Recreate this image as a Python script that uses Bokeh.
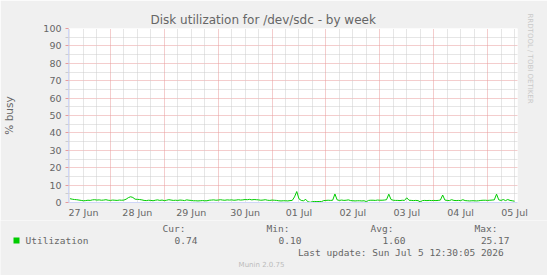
import datetime as dt

from bokeh.plotting import figure
from bokeh.layouts import column
from bokeh.models import (Range1d, FixedTicker, DatetimeTickFormatter, Grid, Label, Title)
from bokeh.embed import file_html
from bokeh.resources import INLINE

# ---------------- data ----------------
title = "Disk utilization for /dev/sdc - by week"
y_label = "% busy"
series_name = "Utilization"
series_color = "#00CC00"
start_time = dt.datetime(2026, 6, 27, 6, 0)   # first hourly sample
utilization = [
    2.2, 1.9, 1.7, 1.6, 1.4, 1.2, 1.0, 1.1, 1.3, 1.2, 1.5, 1.6, 1.4, 1.5, 1.3, 1.4, 1.6, 1.3, 1.2, 1.4, 1.3, 1.2, 1.4, 1.3,
    1.4, 1.9, 2.8, 3.3, 2.9, 1.9, 1.8, 1.7, 1.5, 1.2, 1.1, 1.3, 1.2, 1.0, 1.3, 1.5, 1.2, 1.4, 1.1, 1.3, 1.6, 1.4, 1.2, 1.3,
    1.2, 1.4, 1.3, 1.1, 1.5, 1.3, 1.2, 1.0, 1.0, 0.9, 1.0, 1.1, 1.0, 1.0, 1.3, 1.4, 1.5, 1.3, 1.4, 1.6, 1.4, 1.3, 1.5, 1.4,
    1.5, 1.3, 1.4, 1.6, 1.4, 1.5, 1.7, 1.6, 1.8, 1.5, 1.7, 1.6, 1.5, 1.3, 1.4, 1.6, 1.3, 1.2, 1.4, 1.3, 1.2, 1.0, 0.9, 1.0,
    1.0, 0.9, 1.1, 1.2, 3.2, 6.3, 2.1, 1.2, 1.0, 1.8, 0.4, 0.1, 0.5, 0.6, 0.5, 0.6, 0.5, 1.1, 1.2, 1.3, 1.2, 1.3, 4.9, 1.5,
    1.2, 1.4, 1.2, 1.3, 1.5, 1.1, 1.0, 0.9, 1.0, 1.0, 0.9, 1.0, 0.5, 1.2, 1.3, 1.3, 1.2, 1.4, 1.3, 1.3, 1.4, 1.6, 4.8, 1.7,
    1.3, 1.2, 1.2, 1.1, 1.3, 1.2, 2.7, 1.3, 1.2, 1.1, 1.2, 1.1, 0.4, 1.1, 1.2, 1.1, 1.2, 1.1, 1.2, 1.1, 1.2, 1.4, 4.3, 1.4,
    1.2, 1.1, 1.6, 1.2, 1.1, 1.2, 1.1, 1.6, 1.1, 1.0, 0.9, 1.0, 1.0, 0.9, 1.0, 1.2, 1.3, 1.3, 1.2, 1.3, 1.4, 1.5, 4.8, 1.5,
    1.2, 1.7, 1.1, 1.7, 1.2, 1.0, 0.74,
]
stat_names = ["Cur:", "Min:", "Avg:", "Max:"]
stat_values = ["0.74", "0.10", "1.60", "25.17"]
last_update = "Last update: Sun Jul  5 12:30:05 2026"
footer = "Munin 2.0.75"
watermark = "RRDTOOL / TOBI OETIKER"
x_start = dt.datetime(2026, 6, 27, 5, 20)
x_end = dt.datetime(2026, 7, 5, 13, 20)
first_label_day = dt.datetime(2026, 6, 27)
n_days = 9
y_major = list(range(0, 101, 10))
y_minor = list(range(5, 100, 10))

# ---------------- derived ----------------
EPOCH = dt.datetime(1970, 1, 1)
def ms(d):
    return (d - EPOCH).total_seconds() * 1000.0

times = [start_time + dt.timedelta(hours=i) for i in range(len(utilization))]
noon_ticks = [ms(first_label_day + dt.timedelta(days=k, hours=12)) for k in range(n_days)]
midnights = [ms(first_label_day + dt.timedelta(days=k)) for k in range(1, n_days)]
six_hourly = []
t = first_label_day + dt.timedelta(hours=6)
while t <= x_end:
    if t.hour != 0:
        six_hourly.append(ms(t))
    t += dt.timedelta(hours=6)

FONT = "DejaVu Sans"
MONO = "DejaVu Sans Mono"
TXT = "#666666"
AXIS = "#CFD6F8"
MGRID = "#E89A9A"
GRID = "#CCCCCC"
BG = "#F0F0F0"

# ---------------- main graph ----------------
p = figure(width=547, height=220, x_axis_type="datetime",
           x_range=Range1d(x_start, x_end), y_range=Range1d(0, 100),
           output_backend="svg", toolbar_location=None,
           min_border_left=67, min_border_right=30, min_border_top=28, min_border_bottom=17)
p.frame_align = False
p.background_fill_color = "#FFFFFF"
p.border_fill_color = BG
p.outline_line_color = None

p.add_layout(Title(text=title, align="left", offset=82, standoff=3,
                   text_font=FONT, text_font_size="12px", text_font_style="normal",
                   text_color=TXT), "above")

xa = p.xaxis[0]
xa.ticker = FixedTicker(ticks=noon_ticks)
fmt = "%d %b"
xa.formatter = DatetimeTickFormatter(microseconds=fmt, milliseconds=fmt, seconds=fmt, minsec=fmt,
                                     minutes=fmt, hourmin=fmt, hours=fmt, days=fmt, months=fmt, years=fmt)
xa.major_tick_out = 0
xa.major_tick_in = 0
xa.minor_tick_out = 0
xa.minor_tick_in = 0
xa.major_label_standoff = 4
xa.axis_line_color = AXIS
xa.major_label_text_font = FONT
xa.major_label_text_font_size = "9.5px"
xa.major_label_text_color = TXT

ya = p.yaxis[0]
ya.ticker = FixedTicker(ticks=y_major, minor_ticks=y_minor)
ya.major_tick_out = 3
ya.major_tick_in = 0
ya.minor_tick_out = 3
ya.minor_tick_in = 0
ya.major_tick_line_color = MGRID
ya.minor_tick_line_color = GRID
ya.major_label_standoff = 4
ya.axis_line_color = AXIS
ya.major_label_text_font = FONT
ya.major_label_text_font_size = "9.5px"
ya.major_label_text_color = TXT
ya.axis_label = y_label
ya.axis_label_standoff = 25
ya.axis_label_text_font = FONT
ya.axis_label_text_font_size = "10.5px"
ya.axis_label_text_font_style = "normal"
ya.axis_label_text_color = TXT

p.add_layout(Title(text=watermark, align="left", offset=-15, standoff=16,
                   text_font=FONT, text_font_size="7px", text_font_style="normal",
                   text_color="#C8C8C8"), "right")

p.xgrid.visible = False
p.ygrid.ticker = FixedTicker(ticks=y_major, minor_ticks=y_minor)
p.ygrid.grid_line_color = MGRID
p.ygrid.grid_line_dash = "1 1"
p.ygrid.minor_grid_line_color = GRID
p.ygrid.minor_grid_line_dash = "1 1"
p.add_layout(Grid(dimension=0, ticker=FixedTicker(ticks=midnights, minor_ticks=six_hourly),
                  grid_line_color=MGRID, grid_line_dash="1 1",
                  minor_grid_line_color=GRID, minor_grid_line_dash="1 1"))

p.line(times, utilization, line_color=series_color, line_width=1)

# ---------------- legend strip (coordinates = page pixels) ----------------
lg = figure(width=547, height=55, x_range=Range1d(0, 547), y_range=Range1d(275, 220),
            output_backend="svg", toolbar_location=None,
            x_axis_location=None, y_axis_location=None,
            min_border_left=0, min_border_right=0, min_border_top=0, min_border_bottom=0)
lg.frame_align = False
lg.background_fill_color = BG
lg.border_fill_color = BG
lg.outline_line_color = None
lg.grid.visible = False

def lab(text, x, y, size, font=MONO, color=TXT, align="left"):
    lg.add_layout(Label(text=text, x=x, y=y, text_font=font, text_font_size=size,
                        text_color=color, text_align=align, text_baseline="middle"))

lg.quad(left=[13], right=[19], top=[237], bottom=[243], fill_color=series_color, line_color=None)
lab(series_name, 25, 240, "9.5px")
name_right = [185, 289, 393, 497]
value_right = [197, 301, 405, 509]
for nm, vl, xn, xv in zip(stat_names, stat_values, name_right, value_right):
    lab(nm, xn, 228, "9.5px", align="right")
    lab(vl, xv, 240, "9.5px", align="right")
lab(last_update, 509, 252, "9.5px", align="right")
lab(footer, 261, 264, "7px", font=FONT, color="#BBBBBB", align="center")

layout = column(p, lg, spacing=0)
open("out.html", "w").write(file_html(layout, INLINE))
